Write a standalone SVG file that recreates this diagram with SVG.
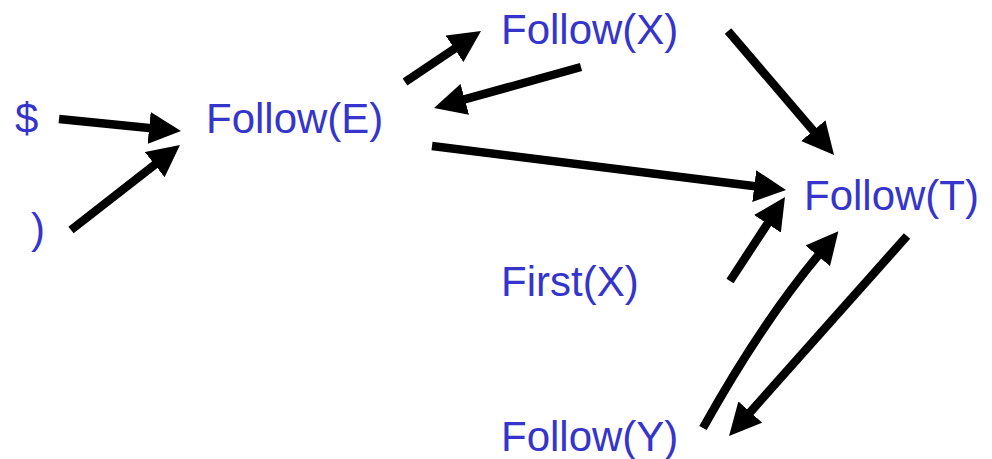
<svg xmlns="http://www.w3.org/2000/svg" width="992" height="459" viewBox="0 0 992 459">
  <style>
    .lbl { font-family: "Liberation Sans", Arial, Helvetica, sans-serif; font-size: 42px; fill: #3535cc; }
    .edge { stroke: #000; stroke-width: 8.5; fill: none; marker-end: url(#head); }
  </style>
  <defs>
    <marker id="head" markerUnits="userSpaceOnUse" viewBox="0 0 32 32" markerWidth="32" markerHeight="32" refX="5" refY="16" orient="auto">
      <path d="M0,0 L32,16 L0,32 Z" fill="#000"/>
    </marker>
  </defs>
  <rect width="992" height="459" fill="#fff"/>

  <g id="connectors">
    <!-- $ -> Follow(E) -->
    <line class="edge" x1="59" y1="119" x2="154.1" y2="128.4"/>
    <!-- ) -> Follow(E) -->
    <line class="edge" x1="71" y1="230" x2="158.7" y2="161.6"/>
    <!-- Follow(E) -> Follow(X) -->
    <line class="edge" x1="405" y1="82" x2="458.6" y2="46"/>
    <!-- Follow(X) -> Follow(E) -->
    <line class="edge" x1="581" y1="67" x2="460" y2="100.7"/>
    <!-- Follow(X) -> Follow(T) -->
    <line class="edge" x1="728" y1="31" x2="816.5" y2="134.5"/>
    <!-- Follow(E) -> Follow(T) -->
    <line class="edge" x1="432" y1="146" x2="759.2" y2="186.7"/>
    <!-- First(X) -> Follow(T) -->
    <line class="edge" x1="730" y1="281" x2="770.2" y2="219.6"/>
    <!-- Follow(Y) -> Follow(T) -->
    <path class="edge" d="M703,428 Q762,322 821,252"/>
    <!-- Follow(T) -> Follow(Y) -->
    <line class="edge" x1="907" y1="236" x2="747" y2="415.8"/>
  </g>

  <g id="dollar"><text class="lbl" x="15" y="133">$</text></g>
  <g id="rparen"><text class="lbl" x="31" y="243">)</text></g>
  <g id="followE"><text class="lbl" x="206" y="133">Follow(E)</text></g>
  <g id="followX"><text class="lbl" x="501" y="44">Follow(X)</text></g>
  <g id="followT"><text class="lbl" x="804" y="210">Follow(T)</text></g>
  <g id="firstX"><text class="lbl" x="501" y="296">First(X)</text></g>
  <g id="followY"><text class="lbl" x="501" y="451">Follow(Y)</text></g>
</svg>
